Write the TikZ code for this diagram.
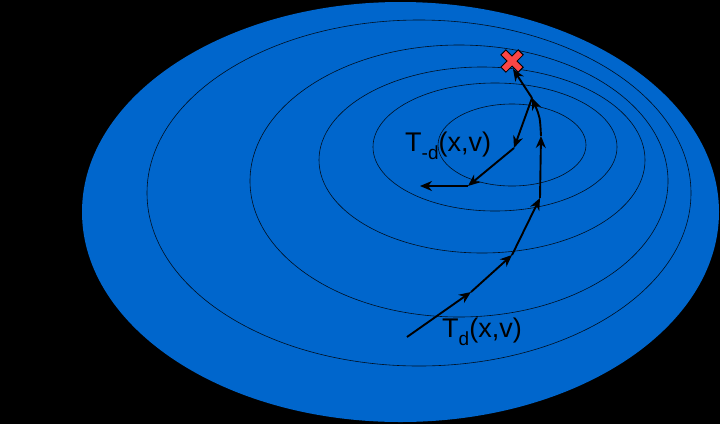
\documentclass[tikz,border=0pt]{standalone}
\usepackage{fontspec}
\setmainfont{Liberation Sans}
\usetikzlibrary{arrows.meta}

\definecolor{basin}{RGB}{0,102,204}
\definecolor{crossred}{RGB}{250,70,70}
\newcommand{\lowsub}[1]{\raisebox{-8pt}{\fontsize{19}{20}\selectfont #1}}

\begin{document}
\begin{tikzpicture}[
  x=1pt,y=-1pt,
  >={Stealth[length=12pt,width=10pt]},
  level/.style={draw=black!85!basin,line width=0.6pt},
  hop/.style={->,line width=1.9pt,black},
  lbl/.style={font=\fontsize{27}{30}\selectfont,inner sep=0pt,anchor=base west}
]

\useasboundingbox (0,0) rectangle (720,424);
\fill[black] (0,0) rectangle (720,424);

%--------------------
% 等高線
%--------------------
\fill[basin] (400.5,212) ellipse [x radius=318.5pt,y radius=210pt];
\draw[level] (419,193) ellipse [x radius=272pt,y radius=173pt];
\draw[level] (459,181) ellipse [x radius=209pt,y radius=136pt];
\draw[level] (482,160) ellipse [x radius=163pt,y radius=93pt];
\draw[level] (495,147) ellipse [x radius=122pt,y radius=64pt];
\draw[level] (512,145) ellipse [x radius=74pt,y radius=41pt];

%--------------------
% 目標点
%--------------------
\coordinate (goal) at (512,61);
\draw[line width=8pt] (503,52) -- (521,70);
\draw[line width=8pt] (503,70) -- (521,52);
\draw[crossred,line width=6pt] (503.8,52.8) -- (520.2,69.2);
\draw[crossred,line width=6pt] (503.8,69.2) -- (520.2,52.8);

%--------------------
% 前進ステップ
%--------------------
\coordinate (p0) at (407,337);
\coordinate (p1) at (471,292);
\coordinate (p2) at (512,255);
\coordinate (p3) at (540,198);
\coordinate (p4) at (541,136);
\coordinate (p5) at (532,98);
\coordinate (p6) at (513,69);

\draw[hop] (p0) -- (p1);
\draw[hop] (p1) -- (p2);
\draw[hop] (p2) -- (p3);
\draw[hop] (p3) -- (p4);
\draw[hop] (p4) .. controls (540,117) .. (p5);
\draw[hop] (p5) -- (p6);

%--------------------
% 逆向きステップ
%--------------------
\coordinate (q1) at (514,148);
\coordinate (q2) at (468,186);
\coordinate (q3) at (420,186);

\draw[hop] (p5) -- (q1);
\draw[hop] (q1) -- (q2);
\draw[hop] (q2) -- (q3);

% ラベル
\node[lbl] (fwd) at (442,337) {T\lowsub{d}(x,v)};
\node[lbl] (bwd) at (405,151) {T\lowsub{-d}(x,v)};

\end{tikzpicture}
\end{document}
